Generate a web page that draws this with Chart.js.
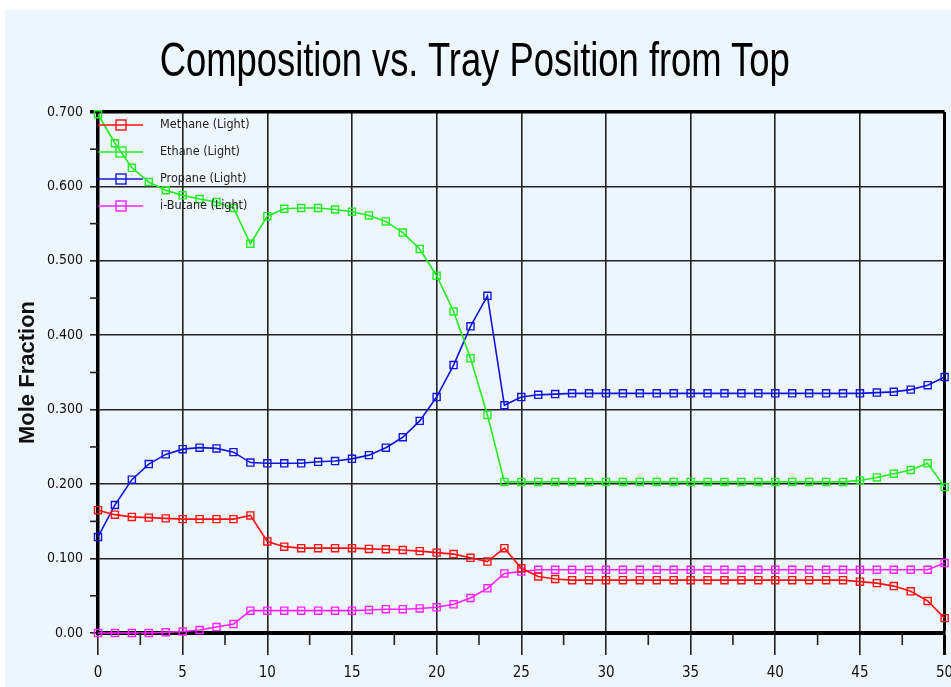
<!DOCTYPE html>
<html>
<head>
<meta charset="utf-8">
<script src="https://cdn.jsdelivr.net/npm/chart.js@4/dist/chart.umd.min.js"></script>
<style>
  html, body { margin: 0; padding: 0; background: #ffffff; width: 951px; height: 687px; overflow: hidden; }
  #wrap { position: absolute; left: 5px; top: 10px; width: 946px; height: 677px; background: #edf5fd; }
  canvas { display: block; position: absolute; left: 0; top: 0; }
  #title { position: absolute; left: -3px; top: 26px; width: 946px; text-align: center; white-space: nowrap;
           font-family: 'Liberation Sans', Arial, sans-serif; font-size: 48px; line-height: 48px; color: #000; z-index: 2; }
  #title span { display: inline-block; transform-origin: 50% 50%; }
</style>
</head>
<body>
<div id="wrap">
  <canvas id="c" width="946" height="677"></canvas>
  <div id="title"><span id="titleText"></span></div>
</div>
<script>
// ---- Data ----
const trays = [0,1,2,3,4,5,6,7,8,9,10,11,12,13,14,15,16,17,18,19,20,21,22,23,24,25,26,27,28,29,30,31,32,33,34,35,36,37,38,39,40,41,42,43,44,45,46,47,48,49,50];

const methane = [0.165,0.159,0.156,0.155,0.154,0.153,0.153,0.153,0.153,0.158,
                 0.123,0.116,0.114,0.114,0.114,0.114,0.113,0.1125,0.1115,0.110,
                 0.108,0.106,0.101,0.096,0.114,0.087,0.076,0.0725,0.071,0.071,
                 0.071,0.071,0.071,0.071,0.071,0.071,0.071,0.071,0.071,0.071,
                 0.071,0.071,0.071,0.071,0.071,0.069,0.067,0.063,0.056,0.043,
                 0.020];

const ethane = [0.697,0.658,0.625,0.606,0.595,0.588,0.583,0.579,0.571,0.523,
                0.560,0.570,0.571,0.571,0.569,0.566,0.561,0.553,0.538,0.516,
                0.480,0.432,0.369,0.293,0.203,0.203,0.203,0.203,0.203,0.203,
                0.203,0.203,0.203,0.203,0.203,0.203,0.203,0.203,0.203,0.203,
                0.203,0.203,0.203,0.203,0.203,0.205,0.209,0.214,0.219,0.228,
                0.196];

const propane = [0.129,0.172,0.206,0.227,0.240,0.247,0.249,0.248,0.243,0.229,
                 0.228,0.228,0.228,0.230,0.231,0.234,0.239,0.249,0.263,0.285,
                 0.317,0.360,0.412,0.453,0.306,0.317,0.320,0.321,0.322,0.322,
                 0.322,0.322,0.322,0.322,0.322,0.322,0.322,0.322,0.322,0.322,
                 0.322,0.322,0.322,0.322,0.322,0.322,0.323,0.324,0.327,0.333,
                 0.344];

const ibutane = [0.000,0.000,0.000,0.000,0.001,0.002,0.004,0.008,0.012,0.030,
                 0.030,0.030,0.030,0.030,0.030,0.030,0.031,0.032,0.032,0.033,
                 0.0345,0.0385,0.047,0.060,0.080,0.0825,0.085,0.085,0.085,0.085,
                 0.085,0.085,0.085,0.085,0.085,0.085,0.085,0.085,0.085,0.085,
                 0.085,0.085,0.085,0.085,0.085,0.085,0.085,0.085,0.085,0.085,
                 0.094];

const seriesNames = ['Methane (Light)', 'Ethane (Light)', 'Propane (Light)', 'i-Butane (Light)'];
const seriesColors = ['#ff1010', '#22ee22', '#1414dd', '#ff22ff'];
const seriesValues = [methane, ethane, propane, ibutane];

const titleText = 'Composition vs. Tray Position from Top';
const yTitle = 'Mole Fraction';

const NARROW = "'Liberation Sans Narrow', 'Arial Narrow', 'DejaVu Sans Condensed', sans-serif";

// title as real HTML text, horizontally condensed to the reference width
const tspan = document.getElementById('titleText');
tspan.textContent = titleText;
const natural = tspan.getBoundingClientRect().width;
tspan.style.transform = 'scaleX(' + (630 / natural) + ')';

const datasets = seriesValues.map((vals, i) => ({
  label: seriesNames[i],
  data: trays.map((t, k) => ({ x: t, y: vals[k] })),
  borderColor: seriesColors[i],
  backgroundColor: 'rgba(0,0,0,0)',
  borderWidth: 1.6,
  pointStyle: 'rect',
  pointRadius: 5,
  pointBorderWidth: 1.4,
  pointBorderColor: seriesColors[i],
  pointBackgroundColor: 'rgba(0,0,0,0)',
  tension: 0,
  clip: false
}));

// minor ticks + inner legend
const extras = {
  id: 'extras',
  afterDraw(chart) {
    const ctx = chart.ctx;
    const xs = chart.scales.x, ys = chart.scales.y;
    const area = chart.chartArea;
    ctx.save();
    ctx.strokeStyle = '#222';
    ctx.lineWidth = 1.6;
    for (let v = 2.5; v < 50; v += 5) {
      const px = xs.getPixelForValue(v);
      ctx.beginPath();
      ctx.moveTo(px, area.bottom);
      ctx.lineTo(px, area.bottom + 12);
      ctx.stroke();
    }
    for (let v = 0.05; v < 0.7; v += 0.1) {
      const py = ys.getPixelForValue(v);
      ctx.beginPath();
      ctx.moveTo(area.left, py);
      ctx.lineTo(area.left - 8, py);
      ctx.stroke();
    }
    ctx.restore();
  },
  afterDatasetsDraw(chart) {
    const ctx = chart.ctx;
    const area = chart.chartArea;
    ctx.save();
    seriesNames.forEach((name, i) => {
      const y = area.top + 13 + 27 * i;
      ctx.strokeStyle = seriesColors[i];
      ctx.lineWidth = 1.6;
      ctx.beginPath();
      ctx.moveTo(area.left, y);
      ctx.lineTo(area.left + 45, y);
      ctx.stroke();
      ctx.lineWidth = 1.4;
      ctx.strokeRect(area.left + 18, y - 5, 10, 10);
      ctx.fillStyle = '#222';
      ctx.font = "12.5px " + NARROW;
      ctx.textBaseline = 'middle';
      ctx.textAlign = 'left';
      ctx.fillText(name, area.left + 62, y);
    });
    ctx.restore();
  }
};

new Chart(document.getElementById('c'), {
  type: 'line',
  data: { datasets },
  options: {
    responsive: false,
    animation: false,
    layout: { padding: { left: 0, right: 3, top: 102, bottom: 0 } },
    plugins: {
      legend: { display: false },
      tooltip: { enabled: false },
      title: { display: false }
    },
    scales: {
      x: {
        type: 'linear',
        min: 0, max: 50,
        ticks: {
          stepSize: 5,
          color: '#111',
          padding: 9,
          font: { family: NARROW, size: 15 }
        },
        grid: {
          color: (c) => (c.tick && c.tick.value === 50) ? '#000' : '#222',
          lineWidth: (c) => (c.tick && c.tick.value === 50) ? 3 : 1.6,
          tickLength: 22,
          drawTicks: true
        },
        border: { display: true, color: '#000', width: 4 },
        afterFit(scale) { scale.height = 54; scale.paddingRight = 0; scale.paddingLeft = 0; }
      },
      y: {
        type: 'linear',
        min: 0, max: 0.7,
        ticks: {
          stepSize: 0.1,
          color: '#111',
          padding: 7,
          font: { family: NARROW, size: 14 },
          callback: (v) => (Math.abs(v) < 1e-9 ? '0.00' : Number(v).toFixed(3))
        },
        grid: {
          color: (c) => (c.tick && Math.abs(c.tick.value - 0.7) < 1e-9) ? '#000' : '#222',
          lineWidth: (c) => (c.tick && Math.abs(c.tick.value - 0.7) < 1e-9) ? 3.5 : 1.6,
          tickLength: 8
        },
        border: { display: true, color: '#000', width: 3.5 },
        title: {
          display: true,
          text: yTitle,
          color: '#111',
          font: { family: "'Liberation Sans', Arial, sans-serif", size: 22, weight: 'bold' },
          padding: { top: 10, bottom: 0 }
        },
        afterFit(scale) { scale.width = 93; scale.paddingTop = 0; scale.paddingBottom = 0; }
      }
    }
  },
  plugins: [extras]
});
</script>
</body>
</html>
